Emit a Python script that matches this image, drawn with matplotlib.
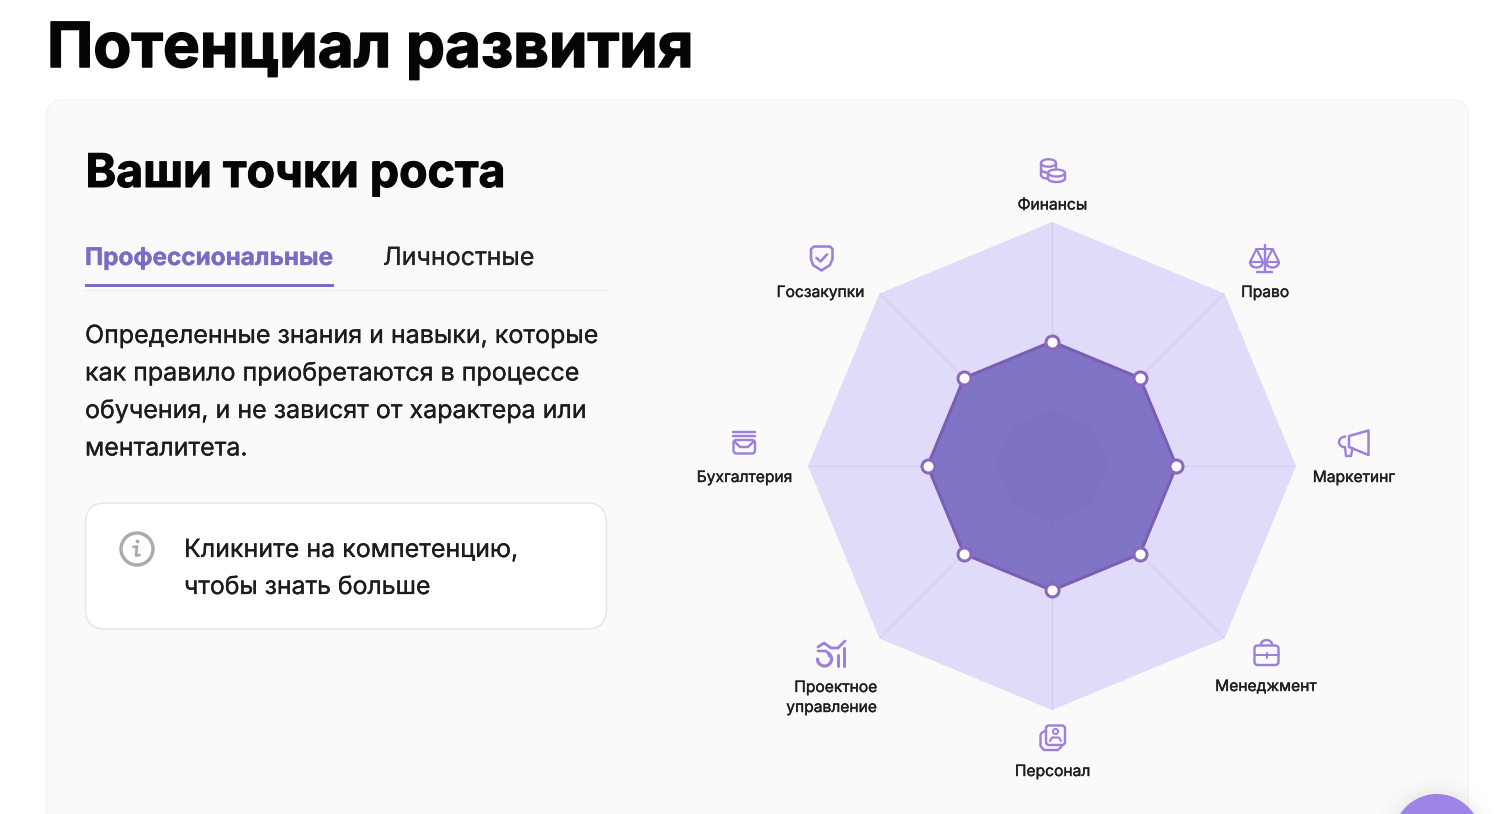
import numpy as np
import matplotlib
matplotlib.use("Agg")
import matplotlib.pyplot as plt
import matplotlib.patheffects as pe
from matplotlib.patches import FancyBboxPatch, Circle, Ellipse, Arc, Polygon, Rectangle

W, H = 1500, 814

# Radar data, clockwise from the top
competencies = ["Финансы", "Право", "Маркетинг", "Менеджмент", "Персонал",
                "Проектное\nуправление", "Бухгалтерия", "Госзакупки"]
user_levels = [51, 51, 51, 51, 51, 51, 51, 51]
scale_levels = [100, 100, 100, 100, 100, 100, 100, 100]
core_levels = [23, 23, 23, 23, 23, 23, 23, 23]

page_title = "Потенциал развития"
card_title = "Ваши точки роста"
tab_labels = ["Профессиональные", "Личностные"]
body_lines = ["Определенные знания и навыки, которые",
              "как правило приобретаются в процессе",
              "обучения, и не зависят от характера или",
              "менталитета."]
hint_lines = ["Кликните на компетенцию,", "чтобы знать больше"]

FONT = "Inter"
INK = "#141414"
VIOLET = "#7B6BC6"
ICON = "#9C80DC"
px = 0.72  # one pixel in points at dpi 100

fig = plt.figure(figsize=(W / 100, H / 100), dpi=100, facecolor="white")

# Page layer, addressed in pixels from the top-left corner
bg = fig.add_axes([0, 0, 1, 1])
bg.set_xlim(0, W)
bg.set_ylim(H, 0)
bg.axis("off")


def rrect(x0, y0, x1, y1, r, fc="none", ec=ICON, lw=2.4, z=2):
    bg.add_patch(FancyBboxPatch((x0 + r, y0 + r), x1 - x0 - 2 * r, y1 - y0 - 2 * r,
                                boxstyle=f"round,pad={r},rounding_size={r}",
                                fc=fc, ec=ec, lw=lw * px, zorder=z))


def stroke(xs, ys, lw=2.4, color=ICON):
    bg.plot(xs, ys, color=color, lw=lw * px, solid_capstyle="round",
            solid_joinstyle="round", zorder=3)


def arc(cx, cy, w, h, a0, a1, lw=2.4, color=ICON):
    # the y axis points down, so angles run clockwise on screen
    bg.add_patch(Arc((cx, cy), w, h, theta1=a0, theta2=a1, ec=color, lw=lw * px, zorder=3))


def label(x, y, s, size, weight="normal", color=INK, ha="left", heavy=0.0):
    t = bg.text(x, y, s, fontsize=size * px, fontweight=weight, color=color, ha=ha,
                va="baseline", family=FONT, zorder=5)
    if heavy:
        # thickens the glyphs beyond the heaviest installed weight
        t.set_path_effects([pe.withStroke(linewidth=heavy * px, foreground=color)])


# Card and hint box
rrect(46.5, 100, 1468, 900, 16, fc="#FAFAFA", ec="#F3F3F3", lw=1.3, z=0)
rrect(85.5, 503, 606.5, 629, 20, fc="white", ec="#E6E6E6", lw=1.5, z=1)

# Headings and tabs
label(47, 67, page_title, 62, "bold", "#050505", heavy=1.5)
label(85.5, 187, card_title, 46.4, "bold", "#050505", heavy=1.0)
label(85, 265, tab_labels[0], 24.3, "bold", VIOLET, heavy=0.3)
label(383, 265, tab_labels[1], 25, "normal", "#222222", heavy=0.2)
bg.plot([85, 608], [289.5, 289.5], color="#EDEDED", lw=1.2 * px, zorder=1)
bg.add_patch(Rectangle((85, 283.5), 248.5, 3, fc=VIOLET, ec="none", zorder=2))

for y, line in zip([343, 380.5, 418, 455.5], body_lines):
    label(85, y, line, 25.0, color="#1C1C1C", heavy=0.25)
for y, line, size in zip([557, 594], hint_lines, [25.0, 24.8]):
    label(184, y, line, size, color="#1C1C1C", heavy=0.25)

# Info glyph
bg.add_patch(Circle((137, 549), 16, fc="none", ec="#ABABAB", lw=3.4 * px, zorder=3))
bg.add_patch(Circle((137.5, 541.5), 1.9, fc="#ABABAB", ec="none", zorder=3))
stroke([133.5, 137, 136, 139.5], [547, 546.5, 555.5, 555], lw=2.8, color="#ABABAB")

# Floating action button, cut by the bottom edge
for grow, alpha in zip([18, 13, 8, 4], [0.006, 0.008, 0.012, 0.016]):
    bg.add_patch(Circle((1437, 838), 44 + grow, fc="black", ec="none", alpha=alpha, zorder=3))
bg.add_patch(Circle((1437, 838), 44, fc="#9D84E6", ec="none", zorder=4))
bg.add_patch(Circle((1437, 822), 7, fc="#E9E3FB", ec="none", zorder=4))

# Radar chart on polar axes, centred on the card's right half
cx, cy, R = 1052, 466, 244
radar = fig.add_axes([(cx - R) / W, 1 - (cy + R) / H, 2 * R / W, 2 * R / H], projection="polar")
radar.patch.set_alpha(0)
radar.set_theta_zero_location("N")
radar.set_theta_direction(-1)
radar.set_ylim(0, 100)
radar.axis("off")

angles = np.arange(len(competencies)) * 2 * np.pi / len(competencies)
ring = np.r_[angles, angles[0]]


def closed(values):
    return np.r_[values, values[0]]


radar.fill(ring, closed(scale_levels), color="#E0DBF9", lw=0, zorder=1)
for t in angles:
    radar.plot([t, t], [51, 100], color="#D3CEF0", lw=1.1 * px, zorder=2)
radar.fill(ring, closed(user_levels), color="#7F74C5", lw=0, zorder=3)
radar.fill(ring, closed(core_levels), color="#7D71C4", lw=0, zorder=4)
for t in angles:
    radar.plot([t, t], [0, 51], color="#796CC0", lw=0.9 * px, alpha=0.3, zorder=4)
radar.plot(ring, closed(user_levels), color="#7C5DB4", lw=3.0 * px, zorder=5, solid_joinstyle="round")
radar.plot(angles, user_levels, ls="none", marker="o", ms=13 * px, mfc="white",
           mec="#8B68BE", mew=3.0 * px, zorder=6, clip_on=False)

# Competency captions
caption_xy = [(1052.5, 209.5, "center"), (1265, 297, "center"), (1354, 482, "center"),
              (1266, 691, "center"), (1052.5, 776, "center"), (877, 692, "right"),
              (744.5, 482, "center"), (820.5, 297, "center")]
for name, (x, y, ha) in zip(competencies, caption_xy):
    for i, part in enumerate(name.split("\n")):
        label(x, y + i * 20, part, 15.6, ha=ha, color="#1E1E1E", heavy=0.35)

# Finance: coin stacks
bg.add_patch(Ellipse((1048.5, 163), 15, 7.5, fc="none", ec=ICON, lw=2.3 * px, zorder=3))
stroke([1041, 1041], [163, 175])
arc(1047, 175, 12, 7, 90, 180)
arc(1047, 169, 12, 7, 90, 180)
stroke([1056, 1056], [163, 168])
bg.add_patch(Ellipse((1056.5, 173), 17, 7, fc="#FAFAFA", ec=ICON, lw=2.3 * px, zorder=3))
stroke([1048, 1048], [173, 178.5])
stroke([1065, 1065], [173, 178.5])
arc(1056.5, 178.5, 17, 7, 0, 180)

# Law: scales
stroke([1264.5, 1264.5], [245, 271])
stroke([1257, 1272], [271.5, 271.5])
stroke([1256, 1273], [249, 249], lw=2)
bg.add_patch(Polygon([(1256.5, 249), (1250, 262), (1263, 262)], fc="none", ec=ICON, lw=2.2 * px, joinstyle="round", zorder=3))
bg.add_patch(Polygon([(1272.5, 249), (1266, 262), (1279, 262)], fc="none", ec=ICON, lw=2.2 * px, joinstyle="round", zorder=3))
arc(1256.5, 262, 13, 11, 0, 180)
arc(1272.5, 262, 13, 11, 0, 180)

# Marketing: megaphone
bg.add_patch(Polygon([(1349, 436), (1368.5, 430.5), (1368.5, 455), (1349, 447)], fc="none", ec=ICON, lw=2.5 * px, joinstyle="round", zorder=3))
arc(1346, 442, 14, 11, 90, 270)
stroke([1345, 1346, 1351, 1352.5], [447, 456, 456, 448])

# Management: briefcase
rrect(1254.5, 645.5, 1278.5, 665, 3)
arc(1266.5, 646, 12, 12, 180, 360)
stroke([1254.5, 1278.5], [655, 655], lw=2)
stroke([1266.5, 1266.5], [653, 657.5], lw=2)

# Staff: stacked profile cards
rrect(1046, 725.5, 1065, 745, 3)
stroke([1045, 1041.5, 1040.5, 1040.5, 1044, 1058, 1061.5],
       [731, 733, 735, 746, 750, 750, 746.5])
bg.add_patch(Circle((1055.5, 731.5), 2.6, fc="none", ec=ICON, lw=1.9 * px, zorder=3))
stroke([1050, 1052, 1059, 1061], [741, 737.5, 737.5, 741], lw=2)

# Project management: trend line, loop and bars
stroke([818, 824, 831, 838, 845], [647, 643, 648, 648, 641], lw=2.8)
stroke([837.5, 837.5], [655, 666], lw=3)
stroke([844, 844], [648, 666], lw=3)
arc(824.5, 659, 14, 14, -60, 190, lw=3.2)
stroke([818, 826, 829, 829], [651, 651, 654, 656], lw=2.6)

# Accounting: archive tray
stroke([733, 755], [431.5, 431.5])
stroke([733, 755], [436, 436])
rrect(733.5, 440, 755, 453.5, 3)
stroke([734, 740, 748, 754], [441, 447, 447, 441])

# Procurement: shield with check mark
shield = [(811, 249), (814, 246.5), (830, 246.5), (832.5, 249), (832.5, 259),
          (830, 265), (821.5, 270.5), (813, 265), (811, 259)]
bg.add_patch(Polygon(shield, closed=True, fc="none", ec=ICON, lw=2.6 * px, joinstyle="round", zorder=3))
stroke([816.5, 820.5, 827], [258, 261.5, 254.5], lw=2.6)

fig.savefig("out.png", dpi=100, facecolor="white")
